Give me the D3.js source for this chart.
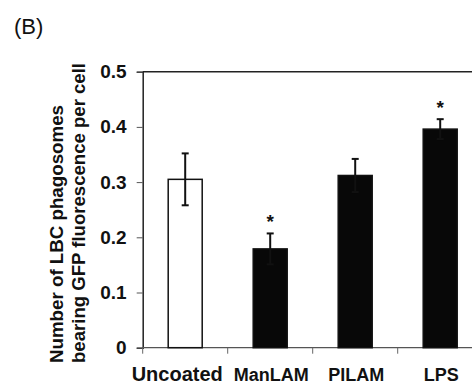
<!DOCTYPE html>
<html>
<head>
<meta charset="utf-8">
<script src="https://cdn.jsdelivr.net/npm/d3@7"></script>
<style>
  body { margin: 0; background: #fff; }
  svg { display: block; font-family: 'Liberation Sans', Arial, sans-serif; }
</style>
</head>
<body>
<svg id="chart" width="472" height="385"></svg>
<script>
// values
const categories = ['Uncoated', 'ManLAM', 'PILAM', 'LPS']
const means = [0.305, 0.179, 0.312, 0.396]
const errors = [0.047, 0.028, 0.030, 0.018]
const significant = [false, true, false, true]
const yTicks = [0, 0.1, 0.2, 0.3, 0.4, 0.5]
const yLabelLines = ['Number of LBC phagosomes', 'bearing GFP fluorescence per cell']

const svg = d3.select('#chart')
const plotLeft = 142.7
const plotRight = 482.7
const plotTop = 71.7
const plotBottom = 347.7

const x = d3.scaleBand()
  .domain(categories)
  .range([plotLeft, plotRight])
  .paddingInner(0.6)
  .paddingOuter(0.3)

const y = d3.scaleLinear()
  .domain([0, 0.5])
  .range([plotBottom, plotTop])

// panel label
svg.append('text')
  .attr('x', 14)
  .attr('y', 34)
  .attr('font-size', 22)
  .attr('fill', '#111')
  .text('(B)')

// top frame line
svg.append('line')
  .attr('x1', plotLeft).attr('x2', 472)
  .attr('y1', y(0.5)).attr('y2', y(0.5))
  .attr('stroke', '#222')
  .attr('stroke-width', 1.5)

// y axis
const yAxis = svg.append('g')
  .attr('transform', `translate(${plotLeft},0)`)
  .call(d3.axisLeft(y).tickValues(yTicks).tickSize(6).tickPadding(10)
    .tickFormat(d => d === 0 ? '0' : d3.format('.1f')(d)))
yAxis.select('.domain').attr('stroke', '#222').attr('stroke-width', 1.5)
yAxis.selectAll('.tick line').attr('stroke', '#555').attr('stroke-width', 1)
yAxis.selectAll('.tick text')
  .attr('font-family', "'Liberation Sans', Arial, sans-serif")
  .attr('font-size', 19)
  .attr('font-weight', 'bold')
  .attr('fill', '#111')

// x axis with ticks on band boundaries
const xAxis = svg.append('g')
  .attr('transform', `translate(0,${plotBottom})`)
xAxis.append('line')
  .attr('x1', plotLeft).attr('x2', plotRight)
  .attr('stroke', '#555').attr('stroke-width', 1.3)
xAxis.selectAll('.xt')
  .data(categories)
  .join('line')
  .attr('class', 'xt')
  .attr('x1', d => x(d) - x.step() * x.paddingOuter())
  .attr('x2', d => x(d) - x.step() * x.paddingOuter())
  .attr('y1', 0).attr('y2', 6)
  .attr('stroke', '#666').attr('stroke-width', 1)

// category labels
svg.selectAll('.cat')
  .data(categories)
  .join('text')
  .attr('class', 'cat')
  .attr('x', (d, i) => x(d) + x.bandwidth() / 2 + (i === 0 ? -8 : 1))
  .attr('y', (d, i) => i === 0 ? 380.5 : 381)
  .attr('text-anchor', 'middle')
  .attr('font-size', (d, i) => i === 0 ? 20 : 18)
  .attr('font-weight', 'bold')
  .attr('fill', '#111')
  .text(d => d)

// bars
svg.selectAll('.bar')
  .data(categories)
  .join('rect')
  .attr('class', 'bar')
  .attr('x', d => x(d))
  .attr('y', (d, i) => y(means[i]))
  .attr('width', x.bandwidth())
  .attr('height', (d, i) => y(0) - y(means[i]))
  .attr('fill', (d, i) => i === 0 ? '#fff' : '#080808')
  .attr('stroke', '#111')
  .attr('stroke-width', 1.5)

// error bars
const eb = svg.selectAll('.err')
  .data(categories)
  .join('g')
  .attr('class', 'err')
eb.append('line')
  .attr('x1', d => x(d) + x.bandwidth() / 2)
  .attr('x2', d => x(d) + x.bandwidth() / 2)
  .attr('y1', (d, i) => y(means[i] - errors[i]))
  .attr('y2', (d, i) => y(means[i] + errors[i]))
  .attr('stroke', '#111').attr('stroke-width', 2)
eb.selectAll('.cap')
  .data((d, i) => [{ c: d, v: means[i] + errors[i] }, { c: d, v: means[i] - errors[i] }])
  .join('line')
  .attr('class', 'cap')
  .attr('x1', d => x(d.c) + x.bandwidth() / 2 - 3.5)
  .attr('x2', d => x(d.c) + x.bandwidth() / 2 + 3.5)
  .attr('y1', d => y(d.v))
  .attr('y2', d => y(d.v))
  .attr('stroke', '#111').attr('stroke-width', 2)

// significance marks
svg.selectAll('.star')
  .data(categories.filter((d, i) => significant[i]))
  .join('text')
  .attr('class', 'star')
  .attr('x', d => x(d) + x.bandwidth() / 2)
  .attr('y', d => {
    const i = categories.indexOf(d)
    return y(means[i] + errors[i]) - 5.5
  })
  .attr('text-anchor', 'middle')
  .attr('font-size', 19)
  .attr('font-weight', 'bold')
  .attr('fill', '#111')
  .text('*')

// y axis title, two lines
const yTitle = svg.append('g')
  .attr('transform', 'rotate(-90)')
yTitle.selectAll('text')
  .data(yLabelLines)
  .join('text')
  .attr('x', -363)
  .attr('y', (d, i) => i === 0 ? 62.5 : 84.5)
  .attr('font-size', 18.5)
  .attr('font-weight', 'bold')
  .attr('fill', '#111')
  .attr('textLength', (d, i) => i === 0 ? 258 : 300)
  .attr('lengthAdjust', 'spacingAndGlyphs')
  .text(d => d)
</script>
</body>
</html>
